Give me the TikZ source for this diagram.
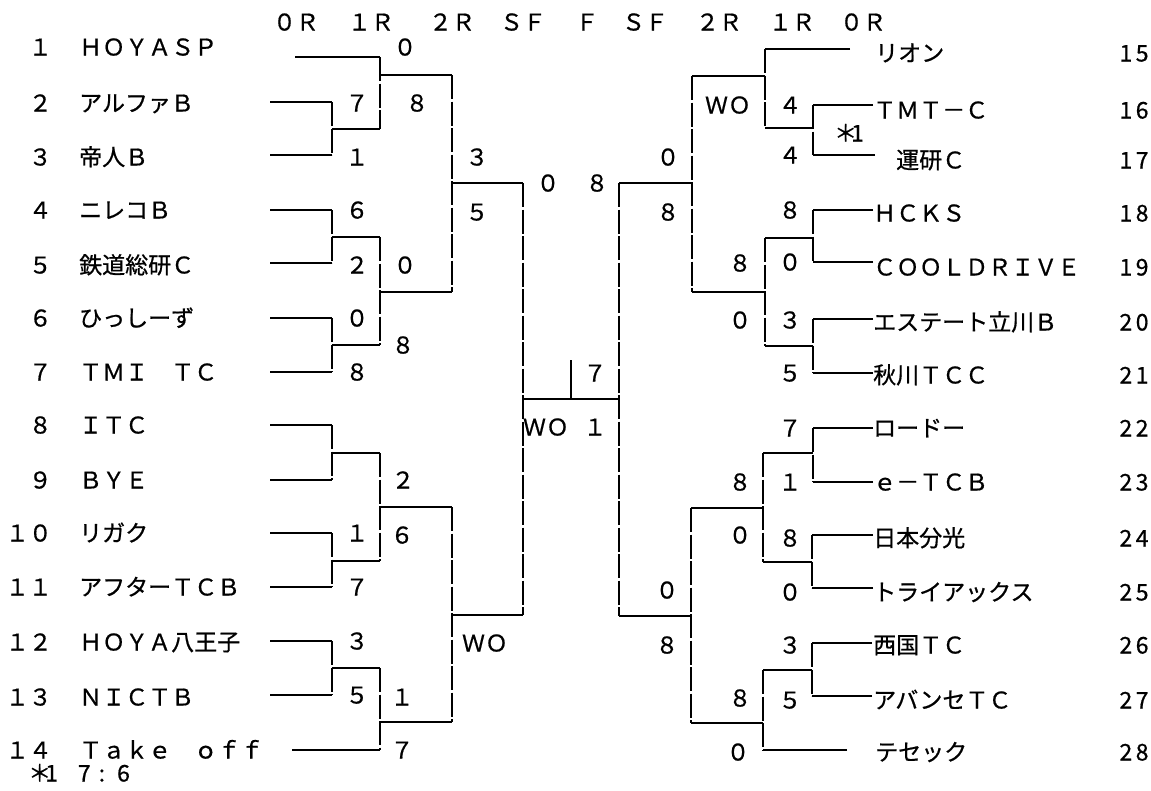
\documentclass[tikz,border=0pt]{standalone}
\usepackage{fontspec}
\newfontfamily\jp[FakeBold=0.7]{Noto Sans CJK JP}
\newcommand{\bkt}[4]{%
  \draw[hl] (#1) -- (#1 -| #3);
  \draw[hl] (#2) -- (#2 -| #3);
  \draw[vl] (#1 -| #3) -- (#2 -| #3);
  \draw[hl] (#3) -- (#4);}
\begin{document}
\begin{tikzpicture}[x=1pt,y=-1pt,
  hl/.style={line width=1.3pt},
  vl/.style={line width=1.3pt,dash pattern=on 24pt off 2.5pt},
  txt/.style={inner sep=0pt,text height=17pt,text depth=0pt,font=\jp\fontsize{23}{24}\selectfont},
  sc/.style={txt,anchor=center},
  nm/.style={txt,anchor=west},
  num/.style={txt,anchor=east},
  rnum/.style={txt,anchor=center}]
\useasboundingbox (0,0) rectangle (1151,790);
% headers
\node[sc] (h0l) at (296,22) {０Ｒ};
\node[sc] (h1l) at (371,22) {１Ｒ};
\node[sc] (h2l) at (452,22) {２Ｒ};
\node[sc] (hsl) at (523,22) {ＳＦ};
\node[sc] (hf)  at (587,22) {Ｆ};
\node[sc] (hsr) at (645,22) {ＳＦ};
\node[sc] (h2r) at (719,22) {２Ｒ};
\node[sc] (h1r) at (792,22) {１Ｒ};
\node[sc] (h0r) at (863,22) {０Ｒ};
% left teams
\node[num] (n1) at (52,47) {１};   \node[nm] (t1) at (79,47) {ＨＯＹＡＳＰ};
\node[num] (n2) at (52,103) {２};  \node[nm] (t2) at (79,103) {アルファＢ};
\node[num] (n3) at (52,157) {３};  \node[nm] (t3) at (79,157) {帝人Ｂ};
\node[num] (n4) at (52,210) {４};  \node[nm] (t4) at (79,210) {ニレコＢ};
\node[num] (n5) at (52,265) {５};  \node[nm] (t5) at (79,265) {鉄道総研Ｃ};
\node[num] (n6) at (52,318) {６};  \node[nm] (t6) at (79,318) {ひっしーず};
\node[num] (n7) at (52,372) {７};  \node[nm] (t7) at (79,372) {ＴＭＩ　ＴＣ};
\node[num] (n8) at (52,425) {８};  \node[nm] (t8) at (79,425) {ＩＴＣ};
\node[num] (n9) at (52,480) {９};  \node[nm] (t9) at (79,480) {ＢＹＥ};
\node[num] (n10) at (52,533) {１０}; \node[nm] (t10) at (79,533) {リガク};
\node[num] (n11) at (52,587) {１１}; \node[nm] (t11) at (79,587) {アフターＴＣＢ};
\node[num] (n12) at (52,642) {１２}; \node[nm] (t12) at (79,642) {ＨＯＹＡ八王子};
\node[num] (n13) at (52,697) {１３}; \node[nm] (t13) at (79,697) {ＮＩＣＴＢ};
\node[num] (n14) at (52,750) {１４}; \node[nm] (t14) at (79,750) {Ｔａｋｅ　ｏｆｆ};
\node[nm] (note) at (28,773) {＊\kern-6pt 1\kern20pt 7\kern8pt:\kern12pt 6};
% right teams
\node[nm] (t15) at (875,53) {リオン};        \node[rnum] (n15) at (1134,53) {1\kern3.5pt 5};
\node[nm] (t16) at (873,110) {ＴＭＴ－Ｃ};    \node[rnum] (n16) at (1134,110) {1\kern3.5pt 6};
\node[nm] (t17) at (896,160) {運研Ｃ};        \node[rnum] (n17) at (1134,160) {1\kern3.5pt 7};
\node[nm] (t18) at (873,213) {ＨＣＫＳ};      \node[rnum] (n18) at (1134,213) {1\kern3.5pt 8};
\node[nm] (t19) at (873,267) {ＣＯＯＬＤＲＩＶＥ}; \node[rnum] (n19) at (1134,267) {1\kern3.5pt 9};
\node[nm] (t20) at (873,322) {エステート立川Ｂ}; \node[rnum] (n20) at (1134,322) {2\kern3.5pt 0};
\node[nm] (t21) at (873,375) {秋川ＴＣＣ};    \node[rnum] (n21) at (1134,375) {2\kern3.5pt 1};
\node[nm] (t22) at (873,428) {ロードー};      \node[rnum] (n22) at (1134,428) {2\kern3.5pt 2};
\node[nm] (t23) at (873,482) {ｅ－ＴＣＢ};    \node[rnum] (n23) at (1134,482) {2\kern3.5pt 3};
\node[nm] (t24) at (873,538) {日本分光};      \node[rnum] (n24) at (1134,538) {2\kern3.5pt 4};
\node[nm] (t25) at (873,592) {トライアックス}; \node[rnum] (n25) at (1134,592) {2\kern3.5pt 5};
\node[nm] (t26) at (873,645) {西国ＴＣ};      \node[rnum] (n26) at (1134,645) {2\kern3.5pt 6};
\node[nm] (t27) at (873,700) {アバンセＴＣ};  \node[rnum] (n27) at (1134,700) {2\kern3.5pt 7};
\node[nm] (t28) at (875,752) {テセック};      \node[rnum] (n28) at (1134,752) {2\kern3.5pt 8};
% left line starts
\coordinate (a1) at (295,57);  \coordinate (a2) at (270,102); \coordinate (a3) at (270,155);
\coordinate (a4) at (270,210); \coordinate (a5) at (270,263); \coordinate (a6) at (270,318);
\coordinate (a7) at (270,372); \coordinate (a8) at (270,425); \coordinate (a9) at (270,480);
\coordinate (a10) at (270,533); \coordinate (a11) at (270,587); \coordinate (a12) at (270,641);
\coordinate (a13) at (270,695); \coordinate (a14) at (292,750);
% left junctions
\coordinate (j23) at (332,129);   \coordinate (o23) at (380,129);
\coordinate (j45) at (332,237);   \coordinate (o45) at (380,237);
\coordinate (j67) at (332,345);   \coordinate (o67) at (380,345);
\coordinate (j89) at (332,453);   \coordinate (o89) at (380,453);
\coordinate (j1011) at (332,561); \coordinate (o1011) at (380,561);
\coordinate (j1213) at (332,668); \coordinate (o1213) at (380,668);
\coordinate (k1) at (380,75);  \coordinate (p1) at (452,75);
\coordinate (k2) at (380,292); \coordinate (p2) at (452,292);
\coordinate (k3) at (380,507); \coordinate (p3) at (452,507);
\coordinate (k4) at (380,722); \coordinate (p4) at (452,722);
\coordinate (k5) at (452,183); \coordinate (p5) at (523,183);
\coordinate (k6) at (452,615); \coordinate (p6) at (523,615);
% right line ends
\coordinate (b15) at (850,49);  \coordinate (b16) at (873,105); \coordinate (b17) at (875,155);
\coordinate (b18) at (873,210); \coordinate (b19) at (873,262); \coordinate (b20) at (873,319);
\coordinate (b21) at (873,373); \coordinate (b22) at (873,428); \coordinate (b23) at (873,482);
\coordinate (b24) at (873,535); \coordinate (b25) at (873,588); \coordinate (b26) at (872,643);
\coordinate (b27) at (872,696); \coordinate (b28) at (847,750);
% right junctions
\coordinate (i1617) at (813,128); \coordinate (u1617) at (765,128);
\coordinate (i1819) at (813,238); \coordinate (u1819) at (765,238);
\coordinate (i2021) at (813,346); \coordinate (u2021) at (765,346);
\coordinate (i2223) at (813,453); \coordinate (u2223) at (763,453);
\coordinate (i2425) at (812,562); \coordinate (u2425) at (763,562);
\coordinate (i2627) at (812,670); \coordinate (u2627) at (763,670);
\coordinate (g1) at (765,76);  \coordinate (h1) at (692,76);
\coordinate (g2) at (765,292); \coordinate (h2) at (692,292);
\coordinate (g3) at (763,508); \coordinate (h3) at (691,508);
\coordinate (g4) at (763,723); \coordinate (h4) at (691,723);
\coordinate (g5) at (692,183); \coordinate (h5) at (619,183);
\coordinate (g6) at (691,616); \coordinate (h6) at (619,616);
% center
\coordinate (k7) at (523,399); \coordinate (k8) at (619,399);
\coordinate (tk1) at (571,360); \coordinate (tk2) at (571,399);
% left brackets
\bkt{a2}{a3}{j23}{o23}
\bkt{a4}{a5}{j45}{o45}
\bkt{a6}{a7}{j67}{o67}
\bkt{a8}{a9}{j89}{o89}
\bkt{a10}{a11}{j1011}{o1011}
\bkt{a12}{a13}{j1213}{o1213}
\bkt{a1}{o23}{k1}{p1}
\bkt{o45}{o67}{k2}{p2}
\bkt{o89}{o1011}{k3}{p3}
\bkt{o1213}{a14}{k4}{p4}
\bkt{p1}{p2}{k5}{p5}
\bkt{p3}{p4}{k6}{p6}
% right brackets
\bkt{b16}{b17}{i1617}{u1617}
\bkt{b18}{b19}{i1819}{u1819}
\bkt{b20}{b21}{i2021}{u2021}
\bkt{b22}{b23}{i2223}{u2223}
\bkt{b24}{b25}{i2425}{u2425}
\bkt{b26}{b27}{i2627}{u2627}
\bkt{b15}{u1617}{g1}{h1}
\bkt{u1819}{u2021}{g2}{h2}
\bkt{u2223}{u2425}{g3}{h3}
\bkt{u2627}{b28}{g4}{h4}
\bkt{h1}{h2}{g5}{h5}
\bkt{h3}{h4}{g6}{h6}
% final
\draw[vl] (p5) -- (p6);
\draw[vl] (h5) -- (h6);
\draw[hl] (k7) -- (k8);
\draw[hl] (tk1) -- (tk2);
% left scores
\node[sc] (s1) at (357,103) {７}; \node[sc] (s2) at (357,157) {１};
\node[sc] (s3) at (405,47) {０};  \node[sc] (s4) at (417,103) {８};
\node[sc] (s5) at (357,210) {６}; \node[sc] (s6) at (357,265) {２};
\node[sc] (s7) at (357,318) {０}; \node[sc] (s8) at (357,372) {８};
\node[sc] (s9) at (405,265) {０}; \node[sc] (s10) at (403,345) {８};
\node[sc] (s11) at (477,157) {３}; \node[sc] (s12) at (477,212) {５};
\node[sc] (s13) at (357,533) {１}; \node[sc] (s14) at (357,587) {７};
\node[sc] (s15) at (403,480) {２}; \node[sc] (s16) at (402,535) {６};
\node[sc] (s17) at (357,641) {３}; \node[sc] (s18) at (357,695) {５};
\node[sc] (s19) at (402,697) {１}; \node[sc] (s20) at (402,750) {７};
\node[sc] (s21) at (485,643) {ＷＯ};
% center scores
\node[sc] (c1) at (548,183) {０}; \node[sc] (c2) at (597,183) {８};
\node[sc] (c3) at (595,373) {７};
\node[sc] (c4) at (546,427) {ＷＯ}; \node[sc] (c5) at (595,427) {１};
% right scores
\node[sc] (r1) at (728,105) {ＷＯ};
\node[sc] (r2) at (790,105) {４}; \node[sc] (r3) at (790,155) {４};
\node[sc] (r4) at (849,133) {＊\kern-6pt 1};
\node[sc] (r5) at (668,157) {０}; \node[sc] (r6) at (668,212) {８};
\node[sc] (r7) at (790,210) {８}; \node[sc] (r8) at (790,262) {０};
\node[sc] (r9) at (790,320) {３}; \node[sc] (r10) at (790,373) {５};
\node[sc] (r11) at (740,263) {８}; \node[sc] (r12) at (740,320) {０};
\node[sc] (r13) at (790,428) {７}; \node[sc] (r14) at (790,482) {１};
\node[sc] (r15) at (790,538) {８}; \node[sc] (r16) at (790,592) {０};
\node[sc] (r17) at (740,482) {８}; \node[sc] (r18) at (740,535) {０};
\node[sc] (r19) at (667,590) {０}; \node[sc] (r20) at (667,645) {８};
\node[sc] (r21) at (790,645) {３}; \node[sc] (r22) at (790,700) {５};
\node[sc] (r23) at (740,698) {８}; \node[sc] (r24) at (738,752) {０};
\end{tikzpicture}
\end{document}
